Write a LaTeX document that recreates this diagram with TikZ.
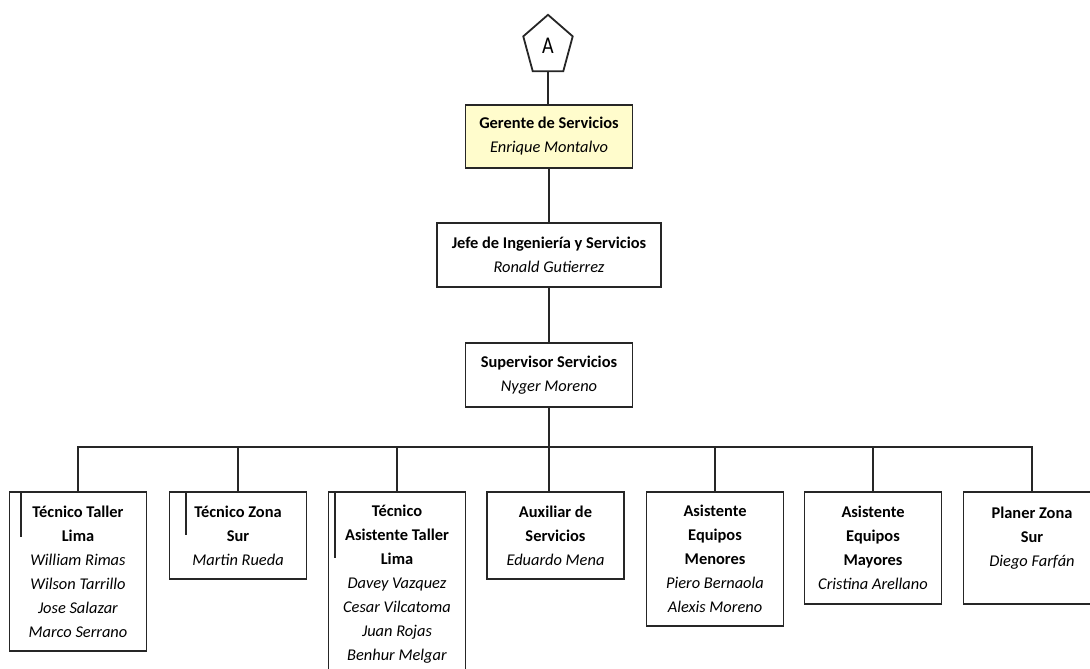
\documentclass[tikz,border=0pt]{standalone}
\usepackage{fontspec}
\setmainfont{Carlito}
\usepackage{xcolor}
\usetikzlibrary{shapes,positioning,calc}
\definecolor{jefeyellow}{RGB}{255,252,204}

\begin{document}
\begin{tikzpicture}[
        x=1pt, y=1pt,
        box/.style={rectangle, draw=black!85, line width=1.8pt, align=center, inner sep=0pt,
            font=\fontsize{16.4}{24}\selectfont},
        small/.style={box, anchor=north, minimum width=137pt},
        link/.style={draw=black!85, line width=1.8pt}
    ]
    \clip (0,0) rectangle (1090,-669);

    % Top of the chart
    \node[draw=black!85, line width=1.8pt, regular polygon, regular polygon sides=5, minimum size=52pt,
        inner sep=0pt, yscale=1.2, transform shape, font=\fontsize{20}{22}\selectfont] (conn) at (548,-46) {A};
    \node[box, fill=jefeyellow, minimum width=167pt, minimum height=63pt] (gerente) at (549,-136.5)
        {\textbf{Gerente de Servicios}\\\textit{Enrique Montalvo}};
    \node[box, minimum width=224pt, minimum height=64pt] (jefe) at (549,-255)
        {\textbf{Jefe de Ingeniería y Servicios}\\\textit{Ronald Gutierrez}};
    \node[box, minimum width=167pt, minimum height=64pt] (super) at (549,-375)
        {\textbf{Supervisor Servicios}\\\textit{Nyger Moreno}};

    % Staff
    \node[small, minimum height=159pt] (taller) at (78,-491)
        {\textbf{Técnico Taller}\\\textbf{Lima}\\\textit{William Rimas}\\\textit{Wilson Tarrillo}\\\textit{Jose Salazar}\\\textit{Marco Serrano}};
    \node[small, minimum height=87pt] (zonasur) at (238,-491)
        {\textbf{Técnico Zona}\\\textbf{Sur}\\\textit{Martin Rueda}};
    \node[small, minimum height=185pt] (asistaller) at (397,-491)
        {\textbf{Técnico}\\\textbf{Asistente Taller}\\\textbf{Lima}\\\textit{Davey Vazquez}\\\textit{Cesar Vilcatoma}\\\textit{Juan Rojas}\\\textit{Benhur Melgar}};
    \node[small, minimum height=87pt] (auxiliar) at (555.5,-491)
        {\textbf{Auxiliar de}\\\textbf{Servicios}\\\textit{Eduardo Mena}};
    \node[small, minimum height=134pt] (menores) at (715,-491)
        {\textbf{Asistente}\\\textbf{Equipos}\\\textbf{Menores}\\\textit{Piero Bernaola}\\\textit{Alexis Moreno}};
    \node[small, minimum height=112pt] (mayores) at (873,-491)
        {\textbf{Asistente}\\\textbf{Equipos}\\\textbf{Mayores}\\\textit{Cristina Arellano}};
    \node[small, minimum height=112pt, text depth=22pt] (planer) at (1032,-491)
        {\textbf{Planer Zona}\\\textbf{Sur}\\\textit{Diego Farfán}};

    % Lines
    \draw[link, line width=2.8pt] (conn.south) -- (conn.south |- gerente.north);
    \draw[link] (gerente) -- (jefe);
    \draw[link] (jefe) -- (super);
    \draw[link] (super.south) -- (super.south |- auxiliar.north);
    \coordinate (bus) at (549,-447);
    \draw[link] (taller.north) |- (bus) -| (planer.north);
    \draw[link] (zonasur.north) -- (zonasur.north |- bus);
    \draw[link] (asistaller.north) -- (asistaller.north |- bus);
    \draw[link] (menores.north) -- (menores.north |- bus);
    \draw[link] (mayores.north) -- (mayores.north |- bus);

    % short marks inside the boxes
    \draw[link] ([xshift=12pt]taller.north west) -- ++(0,-46);
    \draw[link] ([xshift=17pt]zonasur.north west) -- ++(0,-44);
    \draw[link] ([xshift=7pt]asistaller.north west) -- ++(0,-67);
\end{tikzpicture}
\end{document}
